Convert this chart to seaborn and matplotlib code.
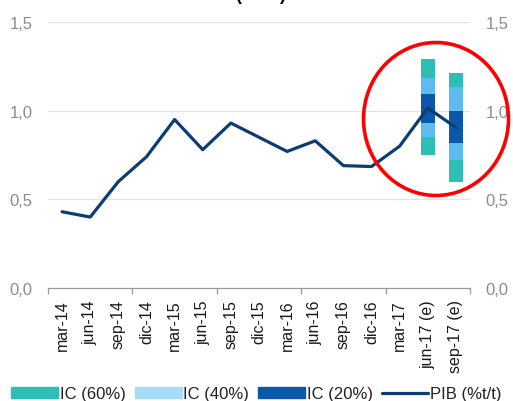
import matplotlib
matplotlib.use("Agg")
import matplotlib.pyplot as plt
from matplotlib.patches import Ellipse, Patch
from matplotlib.lines import Line2D
import numpy as np
import pandas as pd
import seaborn as sns

# Quarterly GDP growth (% q/q) with forecast confidence bands
quarters = ["mar-14", "jun-14", "sep-14", "dic-14", "mar-15", "jun-15", "sep-15",
            "dic-15", "mar-16", "jun-16", "sep-16", "dic-16", "mar-17",
            "jun-17 (e)", "sep-17 (e)"]
pib = [0.43, 0.40, 0.60, 0.74, 0.95, 0.78, 0.93, 0.85, 0.77, 0.83, 0.69,
       0.685, 0.80, 1.015, 0.905]

forecast_quarters = ["jun-17 (e)", "sep-17 (e)"]
ic60_lo = [0.75, 0.60]
ic60_hi = [1.29, 1.21]
ic40_lo = [0.85, 0.72]
ic40_hi = [1.185, 1.135]
ic20_lo = [0.93, 0.815]
ic20_hi = [1.095, 1.00]

y_ticks = [0.0, 0.5, 1.0, 1.5]
y_labels = ["0,0", "0,5", "1,0", "1,5"]

C_TEAL = "#2DBFB5"
C_LIGHT = "#5DBBF0"
C_LIGHT_LEG = "#A6DDF6"
C_DARK = "#0B58AB"
C_LINE = "#0B3D74"
C_GRID = "#E3E3E3"
C_TXT = "#8C8C8C"

sns.set_theme(style="white")
plt.rcParams["font.family"] = ["Liberation Sans", "DejaVu Sans"]

fig = plt.figure(figsize=(5.13, 4.02), dpi=100)
ax = fig.add_axes([48 / 513, 1 - 289 / 402, 422 / 513, 266 / 402])

df = pd.DataFrame({"pos": np.arange(len(quarters)), "quarter": quarters, "pib": pib})
fpos = [quarters.index(q) for q in forecast_quarters]

# Stacked confidence bands (outer first)
for lo, hi, col in [(ic60_lo, ic60_hi, C_TEAL), (ic40_lo, ic40_hi, C_LIGHT),
                    (ic20_lo, ic20_hi, C_DARK)]:
    ax.bar(fpos, np.array(hi) - np.array(lo), bottom=lo, width=0.5,
           color=col, edgecolor="none", zorder=2)

sns.lineplot(data=df, x="pos", y="pib", ax=ax, color=C_LINE, linewidth=2.3,
             zorder=3, legend=False)

ax.set_xlim(-0.5, len(quarters) - 0.5)
ax.set_ylim(0, 1.5)
ax.set_xlabel("")
ax.set_ylabel("")

for v in y_ticks[1:]:
    ax.axhline(v, color=C_GRID, linewidth=0.9, zorder=1)

ax.set_yticks(y_ticks)
ax.set_yticklabels(y_labels)
ax.tick_params(axis="y", length=0, labelsize=12, labelcolor=C_TXT, pad=11,
               labelright=True, right=False, left=False)

ax.set_xticks(np.arange(len(quarters)))
ax.set_xticklabels(quarters, rotation=90)
ax.tick_params(axis="x", which="major", length=0, labelsize=11.5,
               labelcolor="#1A1A1A", pad=8)
ax.set_xticks(np.arange(-0.5, len(quarters), 3), minor=True)
ax.tick_params(axis="x", which="minor", length=4, width=0.9, color="#9A9A9A",
               direction="out", bottom=True)

for s in ["top", "left", "right"]:
    ax.spines[s].set_visible(False)
ax.spines["bottom"].set_color("#9A9A9A")
ax.spines["bottom"].set_linewidth(0.9)

# Title, partly above the top edge
fig.text(261 / 513, 1 - 4 / 402, "(% t/t)", ha="center", va="bottom",
         fontsize=13, fontweight="bold", color="black")

# Highlight around the forecast
fig.patches.append(Ellipse((436 / 513, 1 - 120 / 402), 145 / 513, 153 / 402,
                           transform=fig.transFigure, fill=False,
                           edgecolor="#FF0000", linewidth=2.6))

handles = [Patch(color=C_TEAL), Patch(color=C_LIGHT_LEG), Patch(color=C_DARK),
           Line2D([], [], color=C_LINE, linewidth=2.3)]
labels = ["IC (60%)", "IC (40%)", "IC (20%)", "PIB (%t/t)"]
fig.legend(handles, labels, loc="center", bbox_to_anchor=(0.5, 1 - 395 / 402),
           ncol=4, frameon=False, fontsize=12, handlelength=2.8,
           handleheight=0.6, handletextpad=0.1, columnspacing=0.55,
           borderaxespad=0, borderpad=0, labelcolor="#222222")

fig.savefig("out.png", dpi=100)
